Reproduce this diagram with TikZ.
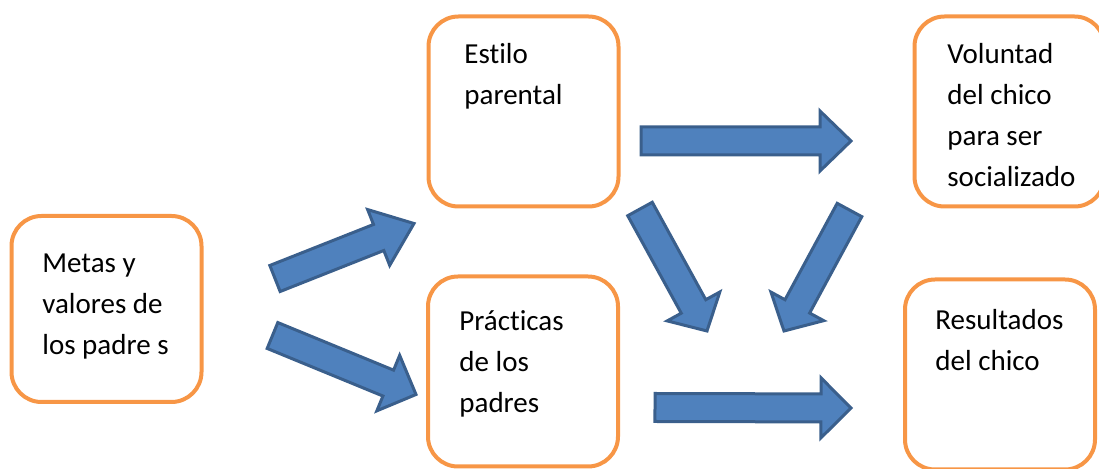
\documentclass[tikz,border=0pt]{standalone}
\usepackage{fontspec}
\setmainfont{Carlito}[Ligatures=NoCommon]
\usetikzlibrary{calc}

\definecolor{boxorange}{HTML}{F79646}
\definecolor{arrowfill}{HTML}{4F81BD}
\definecolor{arrowline}{HTML}{3A5F8C}

\tikzset{
	box/.style={draw=boxorange, line width=2pt, rounded corners=15pt, minimum width=95pt, minimum height=95pt},
	boxtext/.style={anchor=north west, inner sep=0pt, align=left, font=\fontsize{14.5}{20.5}\selectfont},
	blockarr/.style={fill=arrowfill, draw=arrowline, line width=1.5pt}
}

% block arrow: [head length]{tail}{tip}
\newcommand{\blockarrow}[3][15pt]{%
	\coordinate (#2neck) at ($(#3)!#1!(#2)$);
	\draw[blockarr] ($(#2)!7pt!90:(#3)$) -- ($(#2neck)!7pt!90:(#3)$) -- ($(#2neck)!15pt!90:(#3)$) -- (#3)
		-- ($(#2neck)!15pt!-90:(#3)$) -- ($(#2neck)!7pt!-90:(#3)$) -- ($(#2)!7pt!-90:(#3)$) -- cycle;
}

\begin{document}
\begin{tikzpicture}[x=0.5pt, y=-0.5pt]
	\useasboundingbox (0, 0) rectangle (1099, 469);

	\node[box, minimum height=93pt] (metas) at (106.5, 309) {};
	\node[box] (estilo) at (523.5, 111.5) {};
	\node[box] (practicas) at (523, 371.5) {};
	\node[box] (voluntad) at (1009.5, 111.5) {};
	\node[box] (resultados) at (1000, 374.5) {};

	\node[boxtext] (metastext) at (42, 250) {\rule{0pt}{11pt}Metas y\\valores de\\los padre s};
	\node[boxtext] (estilotext) at (464, 41) {\rule{0pt}{11pt}Estilo\\parental};
	\node[boxtext] (practicastext) at (459, 308) {\rule{0pt}{11pt}Prácticas\\de los\\padres};
	\node[boxtext] (voluntadtext) at (947, 41) {\rule{0pt}{11pt}Voluntad\\del chico\\para ser\\socializado};
	\node[boxtext] (resultadostext) at (935, 307) {\rule{0pt}{11pt}Resultados\\del chico};

	\coordinate (arr1a) at (275, 278.5);
	\coordinate (arr1b) at (414, 223.5);
	\coordinate (arr2a) at (272.5, 335.5);
	\coordinate (arr2b) at (416, 394.5);
	\coordinate (arr3a) at (641, 141);
	\coordinate (arr3b) at (851, 141);
	\coordinate (arr4a) at (640, 209);
	\coordinate (arr4b) at (707, 331);
	\coordinate (arr5a) at (849.5, 210);
	\coordinate (arr5b) at (784, 331);
	\coordinate (arr6a) at (655, 407.5);
	\coordinate (arr6b) at (851, 408);

	\blockarrow[19pt]{arr1a}{arr1b}
	\blockarrow{arr2a}{arr2b}
	\blockarrow[15.5pt]{arr3a}{arr3b}
	\blockarrow[14pt]{arr4a}{arr4b}
	\blockarrow[14pt]{arr5a}{arr5b}
	\blockarrow{arr6a}{arr6b}
\end{tikzpicture}
\end{document}
